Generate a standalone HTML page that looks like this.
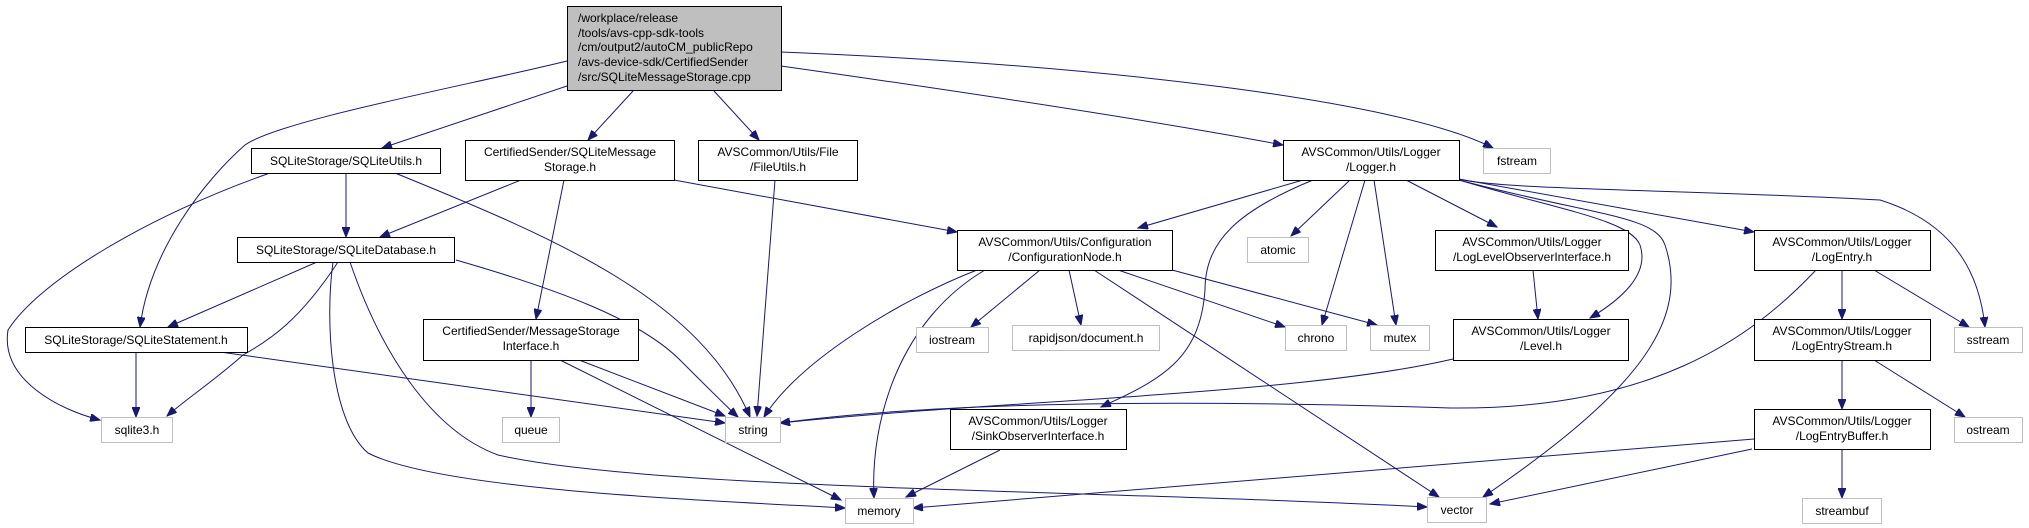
<!DOCTYPE html>
<html><head><meta charset="utf-8"><style>
html,body{margin:0;padding:0;background:#fff;}
svg{display:block;}
text{font-family:"Liberation Sans",Arial,sans-serif;font-size:12px;fill:#000;}
.n{fill:#fff;stroke:#000;stroke-width:1;}
.g{fill:#fff;stroke:#bfbfbf;stroke-width:1;}
.e{fill:none;stroke:#191970;stroke-width:1;}
</style></head><body>
<svg width="2029" height="528" viewBox="0 0 2029 528" xmlns="http://www.w3.org/2000/svg">
<defs>
<marker id="a" markerUnits="userSpaceOnUse" markerWidth="11" markerHeight="8" refX="10" refY="4" orient="auto">
<path d="M0,0 L10,4 L0,8 Z" fill="#191970" stroke="#191970"/>
</marker>
</defs>
<g class="e" marker-end="url(#a)">
<path d="M567,61 C470,85 280,120 245,145 C205,180 150,250 140,327"/>
<path d="M567,86 L382,148"/>
<path d="M633,91 L588,140"/>
<path d="M714,91 L759,140"/>
<path d="M781,66 C950,90 1150,120 1283,145"/>
<path d="M781,52 C1100,65 1400,100 1493,148"/>
<path d="M270,173 C150,215 40,280 8,330 C0,380 60,410 100,420"/>
<path d="M346,173 L346,237"/>
<path d="M395,173 C560,240 700,300 750,417"/>
<path d="M521,180 L380,237"/>
<path d="M564,180 L536,319"/>
<path d="M674,180 L957,232"/>
<path d="M775,180 L757,416"/>
<path d="M317,262 L168,327"/>
<path d="M338,262 C300,320 270,340 243,355 C215,380 185,400 167,416"/>
<path d="M333,262 C325,320 330,420 368,453 C440,490 700,500 845,508"/>
<path d="M350,262 C380,350 430,430 498,455 C650,490 1100,490 1427,507"/>
<path d="M456,260 C560,290 640,320 680,360 C710,390 730,410 738,417"/>
<path d="M136,352 L136,417"/>
<path d="M220,352 L725,423"/>
<path d="M531,360 L531,417"/>
<path d="M579,360 L725,416"/>
<path d="M560,360 L841,500"/>
<path d="M977,270 C900,300 800,360 764,417"/>
<path d="M985,270 C900,320 870,420 874,498"/>
<path d="M1040,270 L971,327"/>
<path d="M1069,270 L1081,325"/>
<path d="M1094,270 L1439,497"/>
<path d="M1118,270 L1285,327"/>
<path d="M1172,270 L1377,325"/>
<path d="M1303,180 L1138,228"/>
<path d="M1313,180 C1240,210 1205,240 1205,290 C1200,360 1160,380 1101,407"/>
<path d="M1350,180 L1291,236"/>
<path d="M1365,180 L1322,325"/>
<path d="M1374,180 L1396,325"/>
<path d="M1406,180 L1497,227"/>
<path d="M1459,180 C1560,210 1630,220 1640,245 C1650,275 1620,300 1590,318"/>
<path d="M1459,180 C1590,215 1655,215 1665,245 C1690,320 1640,390 1483,497"/>
<path d="M1459,179 L1754,232"/>
<path d="M1459,179 C1500,190 1700,190 1880,200 C1960,225 1980,280 1985,327"/>
<path d="M1453,359 C1300,395 1000,400 780,423"/>
<path d="M1816,270 C1750,340 1650,410 1450,408 C1200,400 950,400 780,423"/>
<path d="M1533,270 L1538,319"/>
<path d="M1842,270 L1842,319"/>
<path d="M1874,270 L1969,327"/>
<path d="M1842,360 L1842,409"/>
<path d="M1874,360 L1965,417"/>
<path d="M1754,439 L913,508"/>
<path d="M1752,449 L1490,504"/>
<path d="M1842,449 L1842,498"/>
<path d="M1000,450 L906,497"/>
</g>
<rect x="567.5" y="6.5" width="214" height="84" fill="#bfbfbf" stroke="#000"/>
<text x="578" y="22">/workplace/release</text>
<text x="578" y="37">/tools/avs-cpp-sdk-tools</text>
<text x="578" y="51">/cm/output2/autoCM_publicRepo</text>
<text x="578" y="66">/avs-device-sdk/CertifiedSender</text>
<text x="578" y="81">/src/SQLiteMessageStorage.cpp</text>

<g text-anchor="middle">
<rect class="n" x="251.5" y="148.5" width="189" height="25"/><text x="346" y="165">SQLiteStorage/SQLiteUtils.h</text>
<rect class="n" x="465.5" y="140.5" width="209" height="40"/><text x="570" y="156">CertifiedSender/SQLiteMessage</text><text x="570" y="171">Storage.h</text>
<rect class="n" x="698.5" y="140.5" width="159" height="40"/><text x="778" y="156">AVSCommon/Utils/File</text><text x="778" y="171">/FileUtils.h</text>
<rect class="n" x="1283.5" y="140.5" width="176" height="40"/><text x="1371" y="156">AVSCommon/Utils/Logger</text><text x="1371" y="171">/Logger.h</text>
<rect class="g" x="1483.5" y="148.5" width="67" height="25"/><text x="1517" y="165">fstream</text>
<rect class="n" x="237.5" y="237.5" width="217" height="25"/><text x="346" y="254">SQLiteStorage/SQLiteDatabase.h</text>
<rect class="n" x="957.5" y="230.5" width="215" height="40"/><text x="1065" y="246">AVSCommon/Utils/Configuration</text><text x="1065" y="261">/ConfigurationNode.h</text>
<rect class="g" x="1247.5" y="237.5" width="61" height="25"/><text x="1278" y="254">atomic</text>
<rect class="n" x="1435.5" y="230.5" width="193" height="40"/><text x="1532" y="246">AVSCommon/Utils/Logger</text><text x="1532" y="261">/LogLevelObserverInterface.h</text>
<rect class="n" x="1754.5" y="230.5" width="176" height="40"/><text x="1842" y="246">AVSCommon/Utils/Logger</text><text x="1842" y="261">/LogEntry.h</text>
<rect class="n" x="25.5" y="327.5" width="222" height="25"/><text x="136" y="344">SQLiteStorage/SQLiteStatement.h</text>
<rect class="n" x="423.5" y="319.5" width="215" height="41"/><text x="531" y="335">CertifiedSender/MessageStorage</text><text x="531" y="350">Interface.h</text>
<rect class="g" x="916.5" y="327.5" width="72" height="25"/><text x="952" y="344">iostream</text>
<rect class="g" x="1012.5" y="325.5" width="147" height="25"/><text x="1086" y="342">rapidjson/document.h</text>
<rect class="g" x="1285.5" y="325.5" width="61" height="25"/><text x="1316" y="342">chrono</text>
<rect class="g" x="1370.5" y="325.5" width="59" height="25"/><text x="1400" y="342">mutex</text>
<rect class="n" x="1453.5" y="319.5" width="175" height="41"/><text x="1541" y="335">AVSCommon/Utils/Logger</text><text x="1541" y="350">/Level.h</text>
<rect class="n" x="1754.5" y="319.5" width="176" height="41"/><text x="1842" y="335">AVSCommon/Utils/Logger</text><text x="1842" y="350">/LogEntryStream.h</text>
<rect class="g" x="1954.5" y="327.5" width="68" height="25"/><text x="1988" y="344">sstream</text>
<rect class="g" x="101.5" y="417.5" width="71" height="25"/><text x="137" y="434">sqlite3.h</text>
<rect class="g" x="502.5" y="417.5" width="57" height="25"/><text x="531" y="434">queue</text>
<rect class="g" x="725.5" y="417.5" width="55" height="25"/><text x="753" y="434">string</text>
<rect class="n" x="950.5" y="409.5" width="176" height="40"/><text x="1038" y="425">AVSCommon/Utils/Logger</text><text x="1038" y="440">/SinkObserverInterface.h</text>
<rect class="n" x="1754.5" y="409.5" width="176" height="40"/><text x="1842" y="425">AVSCommon/Utils/Logger</text><text x="1842" y="440">/LogEntryBuffer.h</text>
<rect class="g" x="1954.5" y="417.5" width="68" height="25"/><text x="1988" y="434">ostream</text>
<rect class="g" x="845.5" y="498.5" width="68" height="25"/><text x="879" y="515">memory</text>
<rect class="g" x="1427.5" y="497.5" width="59" height="25"/><text x="1457" y="514">vector</text>
<rect class="g" x="1802.5" y="498.5" width="79" height="25"/><text x="1842" y="515">streambuf</text>
</g>
</svg>
</body></html>
